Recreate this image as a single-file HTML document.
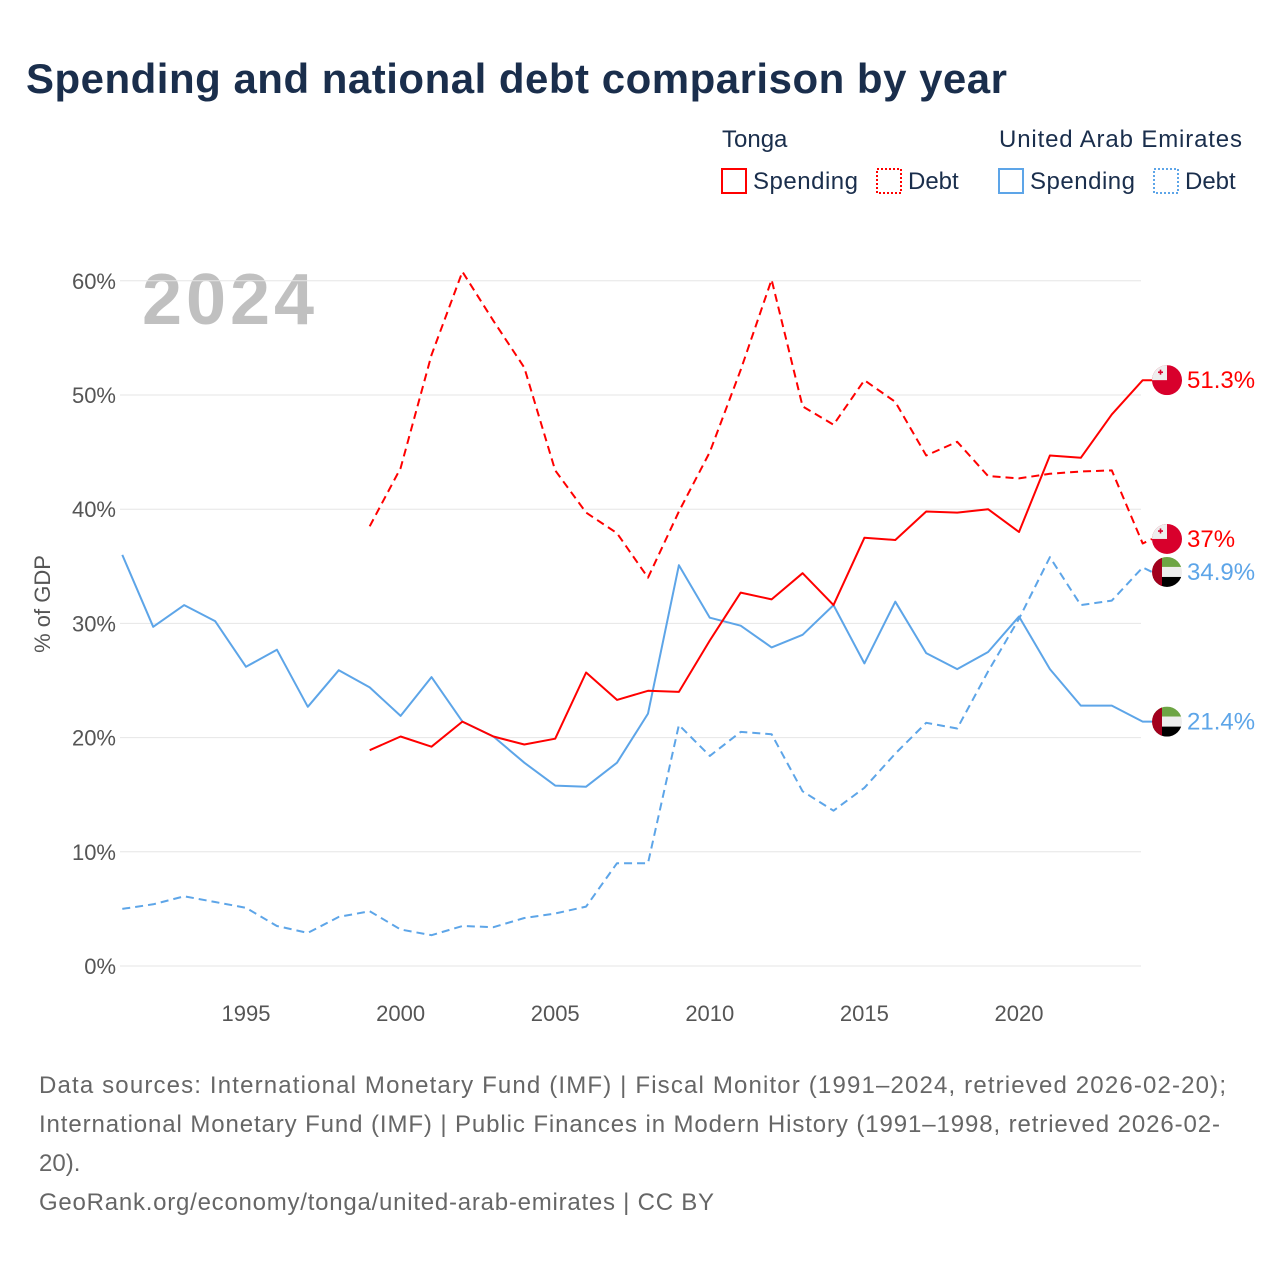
<!DOCTYPE html>
<html><head><meta charset="utf-8">
<style>
body{margin:0;background:#fff;font-family:"Liberation Sans",sans-serif;}
#wrap{position:relative;width:1280px;height:1280px;overflow:hidden;}
</style></head>
<body>
<div id="wrap">
<svg id="chart" width="1280" height="1280" font-family="Liberation Sans, sans-serif">
<text x="26" y="93" font-size="42" font-weight="bold" fill="#1a2e4c" textLength="981">Spending and national debt comparison by year</text>
<g font-size="24" fill="#1a2e4c">
<text x="722" y="147">Tonga</text>
<text x="999" y="147" textLength="243">United Arab Emirates</text>
<g><rect x="722" y="169" width="24" height="24" fill="none" stroke="#ff0000" stroke-width="2"/><text x="753" y="189" textLength="105">Spending</text></g>
<g><rect x="877" y="169" width="24" height="24" fill="none" stroke="#ff0000" stroke-width="2" stroke-dasharray="2,2"/><text x="908" y="189">Debt</text></g>
<g><rect x="999" y="169" width="24" height="24" fill="none" stroke="#5da5e8" stroke-width="2"/><text x="1030" y="189" textLength="105">Spending</text></g>
<g><rect x="1154" y="169" width="24" height="24" fill="none" stroke="#5da5e8" stroke-width="2" stroke-dasharray="2,2"/><text x="1185" y="189">Debt</text></g>
</g>
<text x="142" y="324" font-size="72" font-weight="bold" fill="#c0c0c0" textLength="172">2024</text>
<text transform="translate(50,604) rotate(-90)" text-anchor="middle" font-size="22" fill="#555">% of GDP</text>
<g id="grid"></g><g id="xt"></g><g id="series"></g><g id="ends"></g>
<g font-size="24" fill="#666">
<text x="39" y="1093" textLength="1187">Data sources: International Monetary Fund (IMF) | Fiscal Monitor (1991–2024, retrieved 2026-02-20);</text>
<text x="39" y="1132" textLength="1181">International Monetary Fund (IMF) | Public Finances in Modern History (1991–1998, retrieved 2026-02-</text>
<text x="39" y="1171">20).</text>
<text x="39" y="1210" textLength="675">GeoRank.org/economy/tonga/united-arab-emirates | CC BY</text>
</g>
</svg>
</div>
<script>
const years=[1991,1992,1993,1994,1995,1996,1997,1998,1999,2000,2001,2002,2003,2004,2005,2006,2007,2008,2009,2010,2011,2012,2013,2014,2015,2016,2017,2018,2019,2020,2021,2022,2023,2024];
const uaeSpending=[36.0,29.7,31.6,30.2,26.2,27.7,22.7,25.9,24.4,21.9,25.3,21.4,20.1,17.8,15.8,15.7,17.8,22.1,35.1,30.5,29.8,27.9,29.0,31.6,26.5,31.9,27.4,26.0,27.5,30.6,26.0,22.8,22.8,21.4];
const uaeDebt=[5.0,5.4,6.1,5.6,5.1,3.5,2.9,4.3,4.8,3.2,2.7,3.5,3.4,4.2,4.6,5.2,9.0,9.0,21.1,18.4,20.5,20.3,15.3,13.6,15.6,18.6,21.3,20.8,25.8,30.4,35.8,31.6,32.0,34.9];
const tongaSpending=[null,null,null,null,null,null,null,null,18.9,20.1,19.2,21.4,20.1,19.4,19.9,25.7,23.3,24.1,24.0,28.5,32.7,32.1,34.4,31.6,37.5,37.3,39.8,39.7,40.0,38.0,44.7,44.5,48.3,51.3];
const tongaDebt=[null,null,null,null,null,null,null,null,38.5,43.6,53.5,60.8,56.5,52.4,43.4,39.7,37.9,34.0,39.8,45.0,52.2,60.1,49.0,47.4,51.3,49.4,44.7,45.9,42.9,42.7,43.1,43.3,43.4,37.0];
const yTicks=[0,10,20,30,40,50,60];
const xTicks=[1995,2000,2005,2010,2015,2020];
const NS="http://www.w3.org/2000/svg";
const xS=y=>246+(y-1995)*30.92;
const yS=v=>966-v*11.42;
function mk(t,a,p){const e=document.createElementNS(NS,t);for(const k in a)e.setAttribute(k,a[k]);p.appendChild(e);return e;}
const grid=document.getElementById('grid');
yTicks.forEach(v=>{
 const l=mk('line',{x1:120,x2:1141,y1:yS(v),y2:yS(v),stroke:'#e6e6e6','stroke-width':1},grid);
 
 
 const t=mk('text',{x:116,y:yS(v)+8,'text-anchor':'end','font-size':22,fill:'#555'},grid);
 t.textContent=v+'%';
 
 
});
const xt=document.getElementById('xt');
xTicks.forEach(y=>{
 const t=mk('text',{x:xS(y),y:1021,'text-anchor':'middle','font-size':22,fill:'#555'},xt);
 t.textContent=y;
 
 
});
// end label positions with de-overlap
const ends=[
 {v:tongaSpending[33],c:'tonga',col:'#ff0000',n:'end-label-tonga-spending'},
 {v:tongaDebt[33],c:'tonga',col:'#ff0000',n:'end-label-tonga-debt'},
 {v:uaeDebt[33],c:'uae',col:'#5da5e8',n:'end-label-uae-debt'},
 {v:uaeSpending[33],c:'uae',col:'#5da5e8',n:'end-label-uae-spending'}];
ends.forEach(e=>e.y=yS(e.v));
const sorted=ends.slice().sort((a,b)=>a.y-b.y);
for(let it=0;it<20;it++){for(let i=1;i<sorted.length;i++){const a=sorted[i-1],b=sorted[i];const gap=b.y-a.y;if(gap<33){const d=(33-gap)/2;a.y-=d;b.y+=d;}}}
const ser=document.getElementById('series');
function line(vals,color,dash,name,ey){
 let d='';vals.forEach((v,i)=>{if(v==null)return;d+=(d?'L':'M')+xS(years[i]).toFixed(1)+','+yS(v).toFixed(1);});
 d+='L1152,'+ey.toFixed(1);
 const p=mk('path',{d:d,fill:'none',stroke:color,'stroke-width':2,'stroke-dasharray':dash||'none','stroke-linejoin':'round'},ser);
 
 
}
line(uaeDebt,'#5da5e8','8,5','line-uae-debt',ends[2].y);
line(uaeSpending,'#5da5e8',null,'line-uae-spending',ends[3].y);
line(tongaDebt,'#ff0000','8,5','line-tonga-debt',ends[1].y);
line(tongaSpending,'#ff0000',null,'line-tonga-spending',ends[0].y);
const eg=document.getElementById('ends');
ends.forEach((e,k)=>{
 const cy=e.y,cx=1167,r=15;
 const g=mk('g',{},eg);
 
 
 const id='clip'+k;
 const defs=mk('defs',{},g);
 const cp=mk('clipPath',{id:id},defs);mk('circle',{cx:cx,cy:cy,r:r},cp);
 const f=mk('g',{'clip-path':'url(#'+id+')'},g);
 if(e.c==='tonga'){
  mk('rect',{x:cx-r,y:cy-r,width:2*r,height:2*r,fill:'#d8002c'},f);
  mk('rect',{x:cx-r,y:cy-r,width:r,height:r,fill:'#eeeeee'},f);
  mk('rect',{x:cx-9,y:cy-8.7,width:5,height:1.6,fill:'#d8002c'},f);
  mk('rect',{x:cx-7.3,y:cy-10.5,width:1.6,height:5,fill:'#d8002c'},f);
 } else {
  mk('rect',{x:cx-r,y:cy-r,width:2*r,height:10,fill:'#6da544'},f);
  mk('rect',{x:cx-r,y:cy-5,width:2*r,height:10,fill:'#eeeeee'},f);
  mk('rect',{x:cx-r,y:cy+5,width:2*r,height:10,fill:'#000000'},f);
  mk('rect',{x:cx-r,y:cy-r,width:10,height:2*r,fill:'#a2001d'},f);
 }
 const t=mk('text',{x:1187,y:cy+8,'font-size':24,fill:e.col},g);
 t.textContent=(+e.v.toFixed(1))+'%';
});
</script>
</body></html>
